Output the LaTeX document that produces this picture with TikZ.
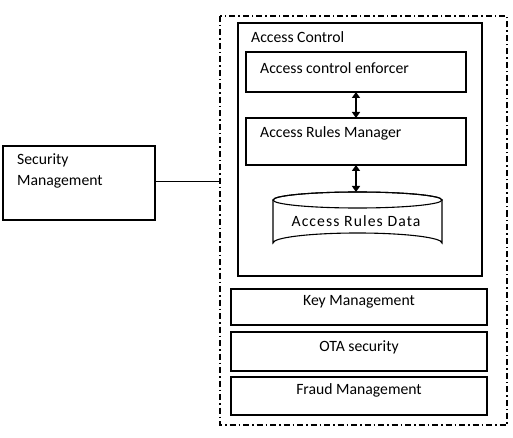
\documentclass[tikz,border=0pt]{standalone}
\usepackage{fontspec}
\setmainfont{Carlito}
\usetikzlibrary{arrows.meta,shapes.geometric}
\begin{document}
\begin{tikzpicture}[x=1pt,y=-1pt,
  box/.style={draw,line width=1.1pt},
  lbl/.style={font=\fontsize{15.7}{18}\selectfont,inner sep=0pt},
  dbl/.style={{Triangle[length=6pt,width=8pt]}-{Triangle[length=6pt,width=8pt]},line width=1.8pt}]
\useasboundingbox (0,0) rectangle (513,438);
% outer dash-dot container
\draw[line width=1.3pt,dash pattern=on 6pt off 3pt on 1.5pt off 3pt] (220,16) rectangle (507,425);
\coordinate (outerleft) at (220,182);
% Access Control
\draw[box] (238,23) rectangle (482,276);
\node[lbl,anchor=west] (ac) at (251,37) {Access Control};
\draw[box] (246,52) rectangle (466,92);
\node[lbl,anchor=west] (ace) at (260,68) {Access control enforcer};
\coordinate (aceb) at (356,92);
\draw[box] (246,118) rectangle (466,165);
\node[lbl,anchor=west] (arm) at (260,133) {Access Rules Manager};
\coordinate (armt) at (356,118);
\coordinate (armb) at (356,165);
% cylinder
\draw[box,fill=white] (273,200) -- (273,243) arc[start angle=180,end angle=360,x radius=84.5,y radius=10] -- (442,200) arc[start angle=0,end angle=-180,x radius=84.5,y radius=8] ;
\draw[box] (357.5,200) ellipse[x radius=84.5,y radius=8];
\coordinate (cylt) at (356,192);
\node[lbl,font=\fontsize{15.7}{18}\selectfont\addfontfeature{LetterSpace=7}] (ard) at (356,221) {Access Rules Data};
\draw[dbl] (aceb) -- (armt);
\draw[dbl] (armb) -- (cylt);
% lower boxes
\draw[box] (231,289) rectangle (487,325);
\node[lbl] (km) at (359,302) {Key Management};
\draw[box] (231,332) rectangle (487,371);
\node[lbl] (ota) at (359,347) {OTA security};
\draw[box] (231,377) rectangle (487,415);
\node[lbl] (fm) at (359,390) {Fraud Management};
% Security Management
\draw[box] (3,146) rectangle (155,220);
\node[lbl,anchor=west] (sm1) at (17,160) {Security};
\node[lbl,anchor=west] (sm2) at (17,182) {Management};
\coordinate (smr) at (155,182);
\draw[line width=1pt] (smr) -- (outerleft);
\end{tikzpicture}
\end{document}
